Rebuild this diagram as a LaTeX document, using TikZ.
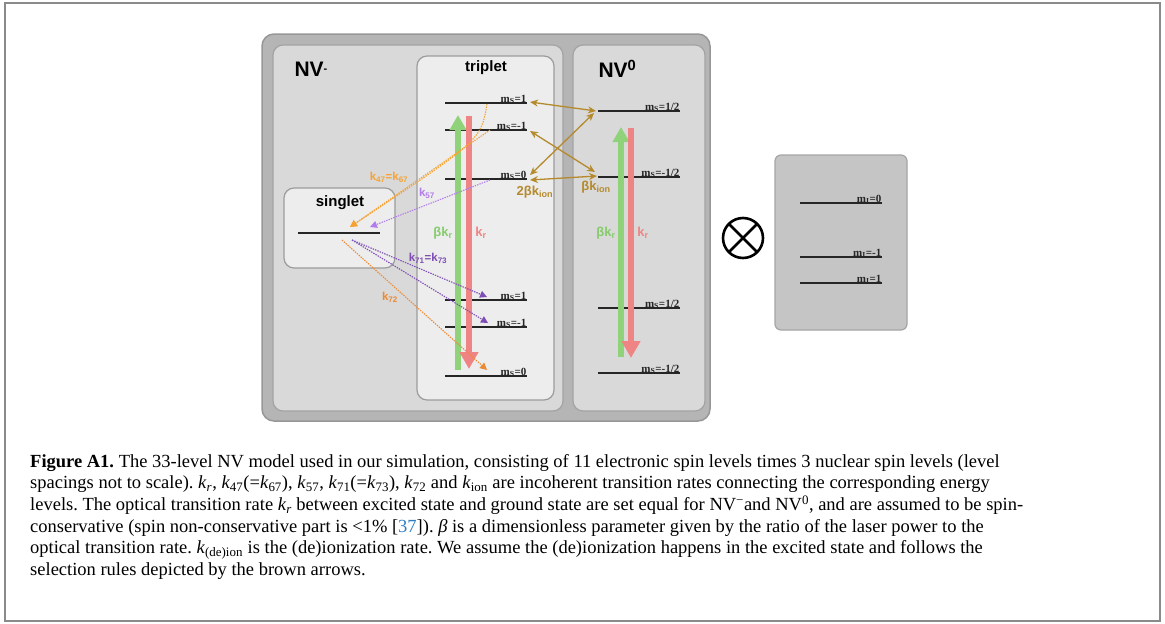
\documentclass[tikz,border=0pt]{standalone}
\usepackage{fontspec}
\setmainfont{Liberation Serif}
\setsansfont{Liberation Sans}
\usetikzlibrary{arrows.meta}
\definecolor{outerg}{HTML}{B5B5B5}
\definecolor{outerb}{HTML}{979797}
\definecolor{midg}{HTML}{D9D9D9}
\definecolor{midb}{HTML}{A3A3A3}
\definecolor{inng}{HTML}{EDEDED}
\definecolor{innb}{HTML}{9C9C9C}
\definecolor{nucg}{HTML}{C5C5C5}
\definecolor{nucb}{HTML}{A5A5A5}
\definecolor{brownarr}{HTML}{B58A2C}
\definecolor{greenarr}{HTML}{8FD27A}
\definecolor{greentxt}{HTML}{86CC6C}
\definecolor{redarr}{HTML}{EF8484}
\definecolor{orangearr}{HTML}{F5A333}
\definecolor{orangetwo}{HTML}{EB8A35}
\definecolor{purpone}{HTML}{B27CEA}
\definecolor{purptwo}{HTML}{7E4DB5}
\definecolor{citeblue}{HTML}{2F7FC1}
\definecolor{framegray}{HTML}{8A8A8A}
\tikzset{
  bigbox/.style={fill=outerg,draw=outerb,line width=1.5pt,rounded corners=12pt},
  midbox/.style={fill=midg,draw=midb,line width=1.2pt,rounded corners=10pt},
  innbox/.style={fill=inng,draw=innb,line width=1.2pt,rounded corners=10pt},
  nucbox/.style={fill=nucg,draw=nucb,line width=1.2pt,rounded corners=6pt},
  lvl/.style={line width=1.4pt,black!85},
  mlab/.style={font=\fontsize{11}{11}\selectfont\bfseries,anchor=south east,inner sep=0.5pt,text=black!85},
  title/.style={font=\sffamily\bfseries\fontsize{15}{16}\selectfont},
  bigtitle/.style={font=\sffamily\bfseries\fontsize{21}{22}\selectfont},
  klab/.style={font=\sffamily\bfseries\fontsize{13}{14}\selectfont,inner sep=1pt},
  slab/.style={font=\sffamily\bfseries\fontsize{11.5}{12}\selectfont,inner sep=1pt},
  greenA/.style={greenarr,line width=5.5pt,-{Triangle[width=16pt,length=15pt]}},
  redA/.style={redarr,line width=5.5pt,-{Triangle[width=18pt,length=17pt]}},
  brownA/.style={brownarr,line width=1.3pt,{Stealth[length=8pt,width=7pt]}-{Stealth[length=8pt,width=7pt]}},
  dotA/.style={line width=1.1pt,dash pattern=on 1.4pt off 1.1pt,-{Triangle[length=7pt,width=7pt]}},
}
\begin{document}
\begin{tikzpicture}[x=1pt,y=-1pt]
\useasboundingbox (0,0) rectangle (1165,624);
\draw[framegray,line width=1.2pt] (5,3) rectangle (1160,621);

% boxes
\draw[bigbox] (262,34) rectangle (710,421);
\draw[midbox] (273,45) rectangle (563,411);
\draw[midbox] (573,45) rectangle (705,411);
\draw[innbox] (417,56) rectangle (554,400);
\draw[innbox] (284,188) rectangle (395,268);
\draw[nucbox] (775,155) rectangle (907,330);

% titles
\node[bigtitle,anchor=west] (nvm) at (291,69) {NV\raisebox{4pt}{\fontsize{11}{11}\selectfont -}};
\node[bigtitle,anchor=west] (nvz) at (595,69) {NV\textsuperscript{0}};
\node[title] (trip) at (486,68) {triplet};
\node[title] (sing) at (340,203) {singlet};

% triplet levels
\coordinate (e1L) at (445,103); \coordinate (e1R) at (527,103);
\coordinate (em1L) at (445,130); \coordinate (em1R) at (527,130);
\coordinate (e0L) at (445,179); \coordinate (e0R) at (527,179);
\coordinate (g1L) at (445,300); \coordinate (g1R) at (527,300);
\coordinate (gm1L) at (445,327); \coordinate (gm1R) at (527,327);
\coordinate (g0L) at (445,376); \coordinate (g0R) at (527,376);
\foreach \a/\b in {e1L/e1R,em1L/em1R,e0L/e0R,g1L/g1R,gm1L/gm1R,g0L/g0R}
  \draw[lvl] (\a) -- (\b);
\node[mlab] (le1) at ([yshift=-1.5pt]e1R) {m\textsubscript{S}=1};
\node[mlab] (lem1) at ([yshift=-1.5pt]em1R) {m\textsubscript{S}=-1};
\node[mlab] (le0) at ([yshift=-1.5pt]e0R) {m\textsubscript{S}=0};
\node[mlab] (lg1) at ([yshift=-1.5pt]g1R) {m\textsubscript{S}=1};
\node[mlab] (lgm1) at ([yshift=-1.5pt]gm1R) {m\textsubscript{S}=-1};
\node[mlab] (lg0) at ([yshift=-1.5pt]g0R) {m\textsubscript{S}=0};

% singlet level
\coordinate (sL) at (298,233); \coordinate (sR) at (380,233);
\draw[lvl] (sL) -- (sR);

% NV0 levels
\coordinate (n1L) at (598,111); \coordinate (n1R) at (680,111);
\coordinate (nm1L) at (598,177); \coordinate (nm1R) at (680,177);
\coordinate (ng1L) at (598,308); \coordinate (ng1R) at (680,308);
\coordinate (ngm1L) at (598,373); \coordinate (ngm1R) at (680,373);
\foreach \a/\b in {n1L/n1R,nm1L/nm1R,ng1L/ng1R,ngm1L/ngm1R}
  \draw[lvl] (\a) -- (\b);
\node[mlab] (ln1) at ([yshift=-1.5pt]n1R) {m\textsubscript{S}=1/2};
\node[mlab] (lnm1) at ([yshift=-1.5pt]nm1R) {m\textsubscript{S}=-1/2};
\node[mlab] (lng1) at ([yshift=-1.5pt]ng1R) {m\textsubscript{S}=1/2};
\node[mlab] (lngm1) at ([yshift=-1.5pt]ngm1R) {m\textsubscript{S}=-1/2};

% nuclear levels
\coordinate (i0L) at (800,203); \coordinate (i0R) at (882,203);
\coordinate (im1L) at (800,257); \coordinate (im1R) at (882,257);
\coordinate (ip1L) at (800,283); \coordinate (ip1R) at (882,283);
\foreach \a/\b in {i0L/i0R,im1L/im1R,ip1L/ip1R}
  \draw[lvl] (\a) -- (\b);
\node[mlab] (li0) at ([yshift=-1.5pt]i0R) {m\textsubscript{I}=0};
\node[mlab] (lim1) at ([yshift=-1.5pt]im1R) {m\textsubscript{I}=-1};
\node[mlab] (lip1) at ([yshift=-1.5pt]ip1R) {m\textsubscript{I}=1};

% tensor product symbol
\node[circle,draw,line width=2.6pt,minimum size=40pt,inner sep=0pt,outer sep=0pt] (otimes) at (743,238) {};
\draw[line width=2.6pt] (otimes.45) -- (otimes.225);
\draw[line width=2.6pt] (otimes.135) -- (otimes.315);

% optical arrows triplet
\coordinate (tgB) at (458,370); \coordinate (tgT) at (458,115);
\coordinate (trT) at (469,116); \coordinate (trB) at (469,369);
\draw[greenA] (tgB) -- (tgT);
\draw[redA] (trT) -- (trB);
\node[klab,text=greentxt] (bkr1) at (443,233) {βk\textsubscript{r}};
\node[klab,text=redarr] (kr1) at (481,233) {k\textsubscript{r}};

% optical arrows NV0
\coordinate (ngB) at (621,357); \coordinate (ngT) at (621,127);
\coordinate (nrT) at (631,128); \coordinate (nrB) at (631,358);
\draw[greenA] (ngB) -- (ngT);
\draw[redA] (nrT) -- (nrB);
\node[klab,text=greentxt] (bkr2) at (606,233) {βk\textsubscript{r}};
\node[klab,text=redarr] (kr2) at (643,233) {k\textsubscript{r}};

% ionization arrows
\coordinate (a1) at (530,102); \coordinate (b1) at (596,111);
\coordinate (a2) at (530,131); \coordinate (b2) at (595,172);
\coordinate (a3) at (530,175); \coordinate (b3) at (594,113);
\coordinate (a4) at (530,180); \coordinate (b4) at (597,176);
\draw[brownA] (a1) -- (b1);
\draw[brownA] (a2) -- (b2);
\draw[brownA] (a3) -- (b3);
\draw[brownA] (a4) -- (b4);
\node[klab,text=brownarr] (ion2) at (535,192) {2βk\textsubscript{ion}};
\node[klab,text=brownarr] (ion1) at (596,187) {βk\textsubscript{ion}};

% intersystem crossing
\coordinate (o1) at (487,104); \coordinate (o2) at (490,130);
\coordinate (sT1) at (350,227); \coordinate (sT2) at (370,227);
\coordinate (sB1) at (342,240); \coordinate (sB2) at (352,240);
\coordinate (p0) at (490,180);
\coordinate (q1) at (487,297); \coordinate (q2) at (488,323); \coordinate (q0) at (487,370);
\draw[dotA,orangearr] (o1) .. controls (481,140) .. (sT1);
\draw[dotA,orangearr] (o2) -- (sT1);
\draw[dotA,purpone] (p0) -- (sT2);
\draw[dotA,purptwo] (sB2) -- (q1);
\draw[dotA,purptwo] (sB2) -- (q2);
\draw[dotA,orangetwo] (sB1) -- (q0);
\node[slab,text=orangearr] (k47) at (389,177) {k\textsubscript{47}=k\textsubscript{67}};
\node[slab,text=purpone] (k57) at (427,193) {k\textsubscript{57}};
\node[slab,text=purptwo] (k71) at (428,258) {k\textsubscript{71}=k\textsubscript{73}};
\node[slab,text=orangetwo] (k72) at (390,297) {k\textsubscript{72}};

% caption
\node[anchor=north west,align=left,inner sep=0pt,font=\frenchspacing\fontsize{18.5}{21.6}\selectfont] (cap) at (30,454) {%
\textbf{Figure A1.} The 33-level NV model used in our simulation, consisting of 11 electronic spin levels times 3 nuclear spin levels (level\\
spacings not to scale). \textit{k}\textsubscript{\textit{r}}, \textit{k}\textsubscript{47}(=\textit{k}\textsubscript{67}), \textit{k}\textsubscript{57}, \textit{k}\textsubscript{71}(=\textit{k}\textsubscript{73}), \textit{k}\textsubscript{72} and \textit{k}\textsubscript{ion} are incoherent transition rates connecting the corresponding energy\\
levels. The optical transition rate \textit{k}\textsubscript{\textit{r}} between excited state and ground state are set equal for NV\textsuperscript{−}and NV\textsuperscript{0}, and are assumed to be spin-\\
conservative (spin non-conservative part is <1\% [\textcolor{citeblue}{37}]). \textit{β} is a dimensionless parameter given by the ratio of the laser power to the\\
optical transition rate. \textit{k}\textsubscript{(de)ion} is the (de)ionization rate. We assume the (de)ionization happens in the excited state and follows the\\
selection rules depicted by the brown arrows.};
\end{tikzpicture}
\end{document}
